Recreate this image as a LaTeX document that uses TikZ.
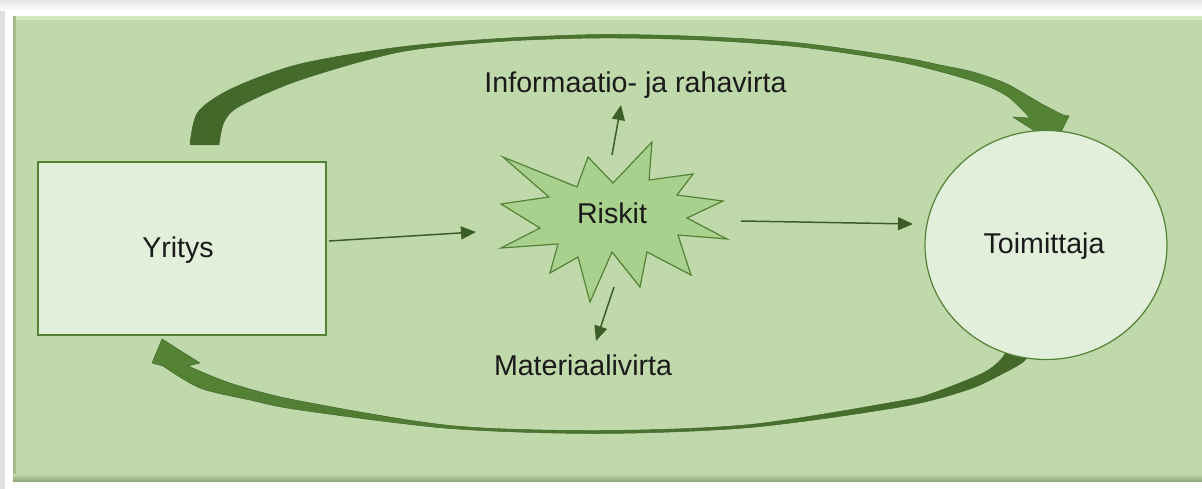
\documentclass[tikz,border=0pt]{standalone}
\usepackage{fontspec}
\setmainfont{Liberation Sans}
\usetikzlibrary{arrows.meta,shapes.geometric,calc}
\definecolor{panel}{HTML}{C0D9AB}
\definecolor{panelhi}{HTML}{D2EAC2}
\definecolor{panelsh}{HTML}{8FAA7C}
\definecolor{lightfill}{HTML}{E2EFDA}
\definecolor{starfill}{HTML}{A9D18E}
\definecolor{border}{HTML}{548235}
\definecolor{swdark}{HTML}{42672A}
\definecolor{swmid}{HTML}{558436}
\definecolor{thin}{HTML}{3B5E26}
\definecolor{txt}{HTML}{1A1A1A}
\begin{document}
\begin{tikzpicture}[x=1pt,y=-1pt,
  lbl/.style={font=\fontsize{28.6pt}{34pt}\selectfont, text=txt, inner sep=0pt},
  boxsty/.style={draw=border, line width=1.2pt, fill=lightfill},
  starsty/.style={draw=border, line width=1.2pt, fill=starfill, line join=miter},
  flow/.style={draw=thin, line width=1.5pt, -{Triangle[length=15pt,width=13pt]}},
  swoosh/.style={draw=swdark, line width=0.5pt, line join=miter}
]
\useasboundingbox (0,0) rectangle (1202,489);
% outer frame
\fill[white] (0,0) rectangle (1202,489);
\fill[black!12] (0,0) rectangle (5,489);
\shade[top color=black!10, bottom color=white] (0,0) rectangle (1202,11);
% panel
\fill[panel] (13,16) rectangle (1202,481);
\fill[panelhi] (13,16) rectangle (1202,20);
\fill[panelsh!60!panel] (13,16) rectangle (16,481);
\shade[top color=panel, bottom color=panelsh] (13,474) rectangle (1202,481);

% top swoosh (information and money flow)
\shade[swoosh, left color=swdark, right color=swmid]
  (190,145) -- plot[smooth, tension=0.5] coordinates {(190,145) (198,112) (233,88) (300,64) (400,47) (500,38.5) (600,34.5) (700,36.5) (800,43) (900,57) (940,65) (973,72) (1007,84) (1040,103) (1063,115)}
  -- (1069,116) -- (1055,144) -- (1013,117) -- (1030,118)
  -- plot[smooth, tension=0.5] coordinates {(1030,118) (1007,96) (973,81) (900,62) (800,47) (700,40) (600,38) (500,41.5) (400,52) (300,80) (240,106) (224,122) (219,145)}
  -- cycle;

% bottom swoosh (material flow)
\shade[swoosh, left color=swmid, right color=swdark]
  (1010,339) -- plot[smooth, tension=0.5] coordinates {(1010,339) (1003,357) (983,373) (933,393) (900,401) (750,424.5) (600,430.5) (450,425.5) (300,401) (233,384) (188,366)}
  -- (200,363) -- (162,339) -- (152,363) -- (163,366)
  -- plot[smooth, tension=0.5] coordinates {(163,366) (200,388) (250,400) (300,410) (450,428.5) (600,433.5) (750,427.5) (900,407) (967,390) (1000,375) (1023,362) (1032,350) (1035,339)}
  -- cycle;

% nodes
\node[boxsty, minimum width=288pt, minimum height=173pt, inner sep=0pt] (yr) at (182,248.5) {};
\node[lbl, anchor=base] (yrt) at (178,257) {Yritys};
\node[boxsty, ellipse, minimum width=242pt, minimum height=229pt, inner sep=0pt] (tm) at (1046,245) {};
\node[lbl, anchor=base] (tmt) at (1044,254) {Toimittaja};

\draw[starsty] (503,157) -- (577,187) -- (588,157) -- (613,183) -- (652,142) -- (649,180)
  -- (693,174) -- (677,195) -- (723,201) -- (687,218) -- (727,239) -- (678,235)
  -- (691,275) -- (647,252) -- (640,287) -- (612,252) -- (590,302) -- (578,257)
  -- (550,273) -- (558,244) -- (501,248) -- (540,228) -- (501,204) -- (549,197) -- cycle;
\node[lbl] (rk) at (612,213) {Riskit};

\node[lbl, anchor=base] (info) at (635.5,93) {Informaatio- ja rahavirta};
\node[lbl, anchor=base] (mat) at (583,375) {Materiaalivirta};

% thin arrows
\draw[flow] ([shift={(147,-7.5)}]yr.center) -- ([shift={(-136,19)}]rk.center);
\draw[flow] ([shift={(129,8)}]rk.center) -- ([shift={(-133,-21)}]tm.center);
\draw[flow] ([shift={(0,-58)}]rk.center) -- ([shift={(9,-108)}]rk.center);
\draw[flow] ([shift={(2,74)}]rk.center) -- ([shift={(-16,128)}]rk.center);
\end{tikzpicture}
\end{document}
